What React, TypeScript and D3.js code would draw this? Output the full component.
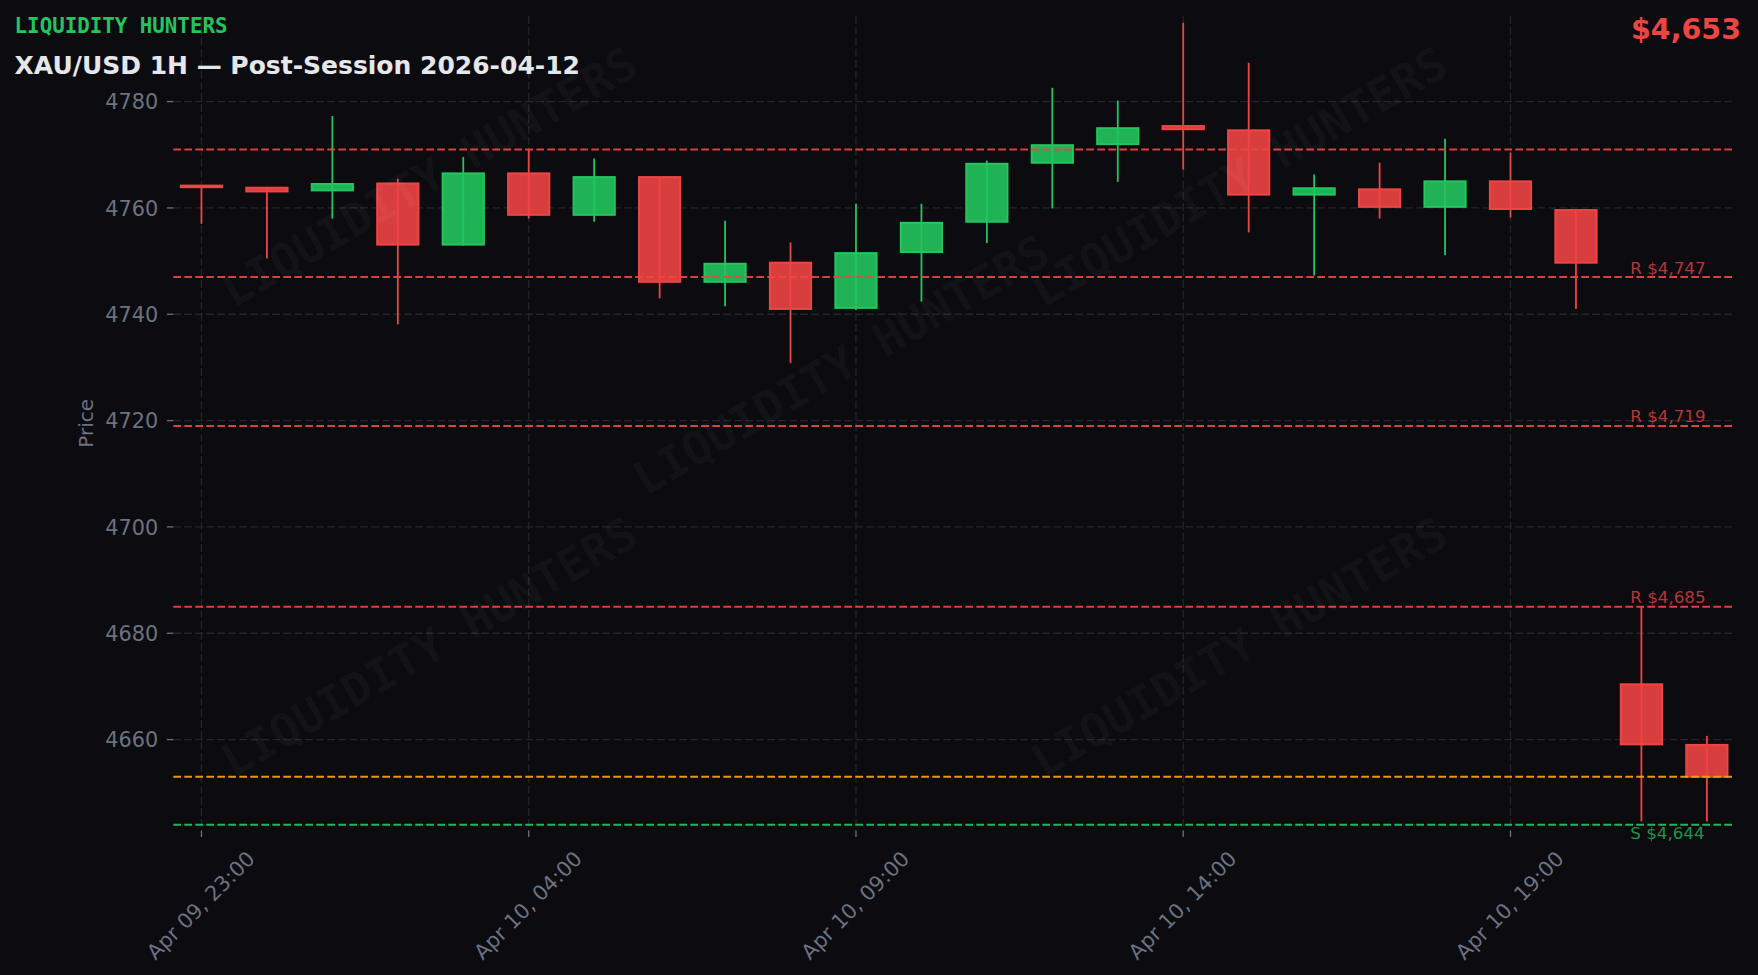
import React from 'react';
import * as d3 from 'd3';

// hourly candles, Apr 09 23:00 -> Apr 10 22:00
const times: string[] = [
    '2026-04-09T23:00', '2026-04-10T00:00', '2026-04-10T01:00', '2026-04-10T02:00',
    '2026-04-10T03:00', '2026-04-10T04:00', '2026-04-10T05:00', '2026-04-10T06:00',
    '2026-04-10T07:00', '2026-04-10T08:00', '2026-04-10T09:00', '2026-04-10T10:00',
    '2026-04-10T11:00', '2026-04-10T12:00', '2026-04-10T13:00', '2026-04-10T14:00',
    '2026-04-10T15:00', '2026-04-10T16:00', '2026-04-10T17:00', '2026-04-10T18:00',
    '2026-04-10T19:00', '2026-04-10T20:00', '2026-04-10T21:00', '2026-04-10T22:00',
];
const opens: number[] = [
    4764.2, 4763.8, 4763.3, 4764.6, 4753.1, 4766.5, 4758.7, 4765.8,
    4746.1, 4749.7, 4741.2, 4751.7, 4757.4, 4768.5, 4772.0, 4775.4,
    4774.6, 4762.5, 4763.5, 4760.2, 4765.0, 4759.6, 4670.4, 4659.0,
];
const highs: number[] = [
    4764.2, 4763.8, 4777.3, 4765.5, 4769.6, 4771.0, 4769.3, 4765.8,
    4757.6, 4753.5, 4760.8, 4760.8, 4768.9, 4782.6, 4780.2, 4794.8,
    4787.3, 4766.3, 4768.5, 4773.0, 4770.4, 4759.6, 4685.0, 4660.7,
];
const lows: number[] = [
    4757.0, 4750.5, 4758.0, 4738.1, 4752.9, 4758.0, 4757.4, 4743.0,
    4741.5, 4730.8, 4740.8, 4742.4, 4753.4, 4759.9, 4764.9, 4767.2,
    4755.4, 4747.3, 4758.0, 4751.1, 4758.2, 4741.0, 4644.6, 4644.6,
];
const closes: number[] = [
    4763.9, 4763.1, 4764.5, 4753.1, 4766.5, 4758.7, 4765.8, 4746.1,
    4749.5, 4741.0, 4751.5, 4757.2, 4768.3, 4771.8, 4775.0, 4774.8,
    4762.5, 4763.7, 4760.2, 4765.0, 4759.8, 4749.7, 4659.1, 4653.0,
];

const resistanceLevels: number[] = [4771, 4747, 4719, 4685];
const resistanceLabeled: boolean[] = [false, true, true, true];
const supportLevels: number[] = [4644];
const currentPrice = 4653;

const yTickValues: number[] = [4660, 4680, 4700, 4720, 4740, 4760, 4780];
const xTickIndex: number[] = [0, 5, 10, 15, 20];

const W = 1758;
const H = 975;
const PLOT = { left: 173.3, right: 1735, top: 16, bottom: 830.5 };

const BG = '#0b0b10';
const RED = '#ef4444';
const GREEN = '#22c55e';
const ORANGE = '#f59e0b';
const MUTED = '#6b7280';
const GRID = '#24242d';
const SANS = '"DejaVu Sans", Verdana, sans-serif';
const MONO = '"DejaVu Sans Mono", monospace';

const watermarks: Array<[number, number]> = [
    [429, 177], [1239, 177], [841, 365], [429, 647], [1239, 647],
];

export default function App() {
    const x = d3.scaleLinear().domain([-0.43, 23.43]).range([PLOT.left, PLOT.right]);
    const y = d3.scaleLinear().domain([4642.9, 4796.1]).range([PLOT.bottom, PLOT.top]);
    const fmt = d3.timeFormat('%b %d, %H:%M');
    const parse = d3.timeParse('%Y-%m-%dT%H:%M');

    const step = x(1) - x(0);
    const bw = step * 0.63;
    const money = (v: number) => '$' + d3.format(',')(v);

    return (
        <div style={{ position: 'absolute', left: 0, top: 0 }}>
            <svg width={W} height={H} style={{ display: 'block', background: BG }}>
                <rect width={W} height={H} fill={BG} />

                {/* grid */}
                {yTickValues.map((t) => (
                    <line key={'gy' + t} x1={PLOT.left} x2={PLOT.right} y1={y(t)} y2={y(t)}
                        stroke={GRID} strokeWidth={1.3} strokeDasharray="7.7 3.3" />
                ))}
                {xTickIndex.map((i) => (
                    <line key={'gx' + i} x1={x(i)} x2={x(i)} y1={PLOT.top} y2={PLOT.bottom}
                        stroke={GRID} strokeWidth={1.3} strokeDasharray="7.7 3.3" />
                ))}

                {/* candles */}
                {times.map((t, i) => {
                    const up = closes[i] >= opens[i];
                    const c = up ? GREEN : RED;
                    const top = y(Math.max(opens[i], closes[i]));
                    const bot = y(Math.min(opens[i], closes[i]));
                    return (
                        <g key={t}>
                            <line x1={x(i)} x2={x(i)} y1={y(highs[i])} y2={y(lows[i])} stroke={c} strokeWidth={1.8} />
                            <rect x={x(i) - bw / 2} y={top} width={bw} height={Math.max(bot - top, 1.2)}
                                fill={c} fillOpacity={0.9} stroke={c} strokeWidth={2} />
                        </g>
                    );
                })}

                {/* levels */}
                {resistanceLevels.map((lv, k) => (
                    <g key={'r' + lv}>
                        <line x1={PLOT.left} x2={PLOT.right} y1={y(lv)} y2={y(lv)} stroke={RED}
                            strokeOpacity={0.92} strokeWidth={2} strokeDasharray="7.7 3.3" />
                        {resistanceLabeled[k] && (
                            <text x={x(21.83)} y={y(lv) - 3.5} fill={RED} fillOpacity={0.75}
                                fontFamily={SANS} fontSize={16.7}>{'R ' + money(lv)}</text>
                        )}
                    </g>
                ))}
                <line x1={PLOT.left} x2={PLOT.right} y1={y(currentPrice)} y2={y(currentPrice)} stroke={ORANGE}
                    strokeOpacity={0.95} strokeWidth={2} strokeDasharray="7.7 3.3" />
                {supportLevels.map((lv) => (
                    <g key={'s' + lv}>
                        <line x1={PLOT.left} x2={PLOT.right} y1={y(lv)} y2={y(lv)} stroke={GREEN}
                            strokeOpacity={0.92} strokeWidth={2} strokeDasharray="7.7 3.3" />
                        <text x={x(21.83)} y={y(lv) + 14} fill={GREEN} fillOpacity={0.75}
                            fontFamily={SANS} fontSize={16.7}>{'S ' + money(lv)}</text>
                    </g>
                ))}

                {/* watermark */}
                {watermarks.map(([cx, cy], k) => (
                    <text key={'wm' + k} transform={`translate(${cx},${cy}) rotate(-30)`} y={16}
                        textAnchor="middle" fill="#ffffff" fillOpacity={0.04}
                        fontFamily={MONO} fontWeight="bold" fontSize={46}>
                        LIQUIDITY HUNTERS
                    </text>
                ))}

                {/* y axis */}
                {yTickValues.map((t) => (
                    <g key={'ty' + t}>
                        <line x1={PLOT.left - 6.5} x2={PLOT.left} y1={y(t)} y2={y(t)} stroke={MUTED} strokeWidth={1.3} />
                        <text x={PLOT.left - 15} y={y(t) + 7.6} textAnchor="end" fill={MUTED}
                            fontFamily={SANS} fontSize={20.8}>{t}</text>
                    </g>
                ))}
                <text transform={`translate(86,${(PLOT.top + PLOT.bottom) / 2}) rotate(-90)`} y={7}
                    textAnchor="middle" fill={MUTED} fontFamily={SANS} fontSize={20}>Price</text>

                {/* x axis */}
                {xTickIndex.map((i) => (
                    <g key={'tx' + i}>
                        <line x1={x(i)} x2={x(i)} y1={PLOT.bottom} y2={PLOT.bottom + 6.5} stroke={MUTED} strokeWidth={1.3} />
                        <text transform={`translate(${x(i) - 1},905) rotate(-45)`} y={7.6} textAnchor="middle"
                            fill={MUTED} fontFamily={SANS} fontSize={20.8}>{fmt(parse(times[i])!)}</text>
                    </g>
                ))}

                {/* header */}
                <text x={14.6} y={33} fill={GREEN} fontFamily={MONO} fontWeight="bold" fontSize={20.8}>
                    LIQUIDITY HUNTERS
                </text>
                <text x={14.6} y={74} fill="#e5e7eb" fontFamily={SANS} fontWeight="bold" fontSize={25}>
                    XAU/USD 1H — Post-Session 2026-04-12
                </text>
                <text x={1741} y={39} textAnchor="end" fill={RED} fontFamily={SANS} fontWeight="bold" fontSize={28.5}>
                    {money(currentPrice)}
                </text>
            </svg>
        </div>
    );
}
